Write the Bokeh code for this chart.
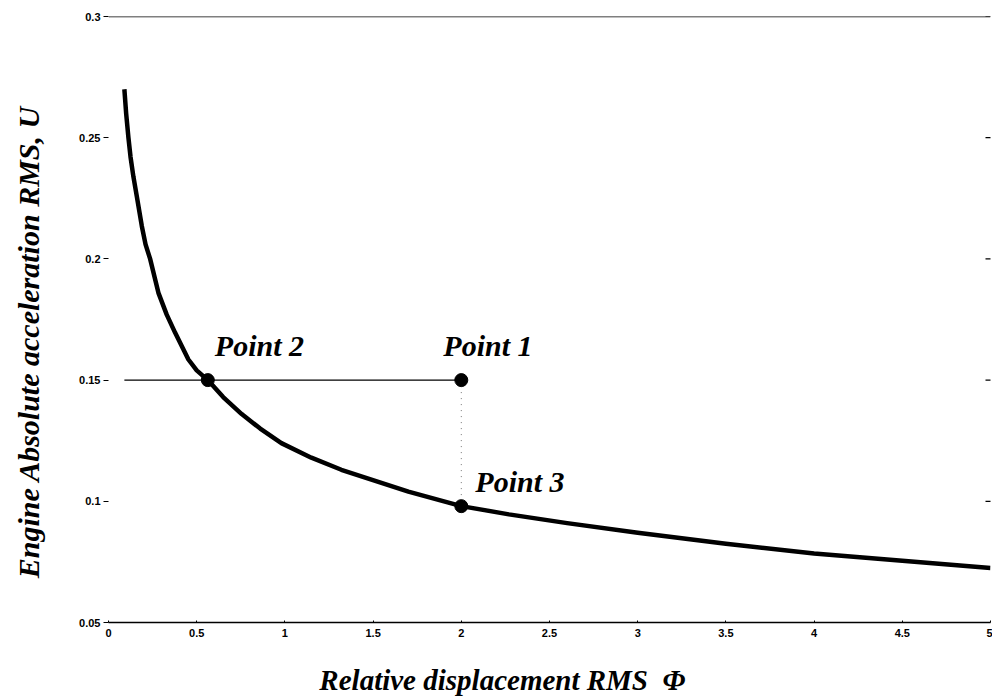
from bokeh.embed import file_html
from bokeh.models import FixedTicker, Label, LinearAxis, Span
from bokeh.plotting import figure
from bokeh.resources import INLINE

# Trade-off curve: engine absolute acceleration RMS vs relative displacement RMS
phi = [0.09, 0.10, 0.113, 0.125, 0.141, 0.16, 0.189, 0.21, 0.236, 0.283, 0.33,
       0.378, 0.453, 0.50, 0.563, 0.65, 0.755, 0.86, 0.98, 1.15, 1.32, 1.70,
       2.00, 2.27, 2.60, 3.00, 3.50, 4.00, 4.50, 5.00]
u = [0.270, 0.260, 0.250, 0.242, 0.234, 0.226, 0.2135, 0.206, 0.200, 0.186, 0.177,
     0.1695, 0.1585, 0.154, 0.150, 0.143, 0.136, 0.130, 0.124, 0.118, 0.113, 0.104,
     0.098, 0.0946, 0.091, 0.087, 0.0825, 0.0785, 0.0755, 0.0725]

# Operating points
point_names = ["Point 1", "Point 2", "Point 3"]
point_phi = [2.0, 0.563, 2.0]
point_u = [0.15, 0.15, 0.098]

x_ticks = [0, 0.5, 1, 1.5, 2, 2.5, 3, 3.5, 4, 4.5, 5]
x_tick_labels = ["0", "0.5", "1", "1.5", "2", "2.5", "3", "3.5", "4", "4.5", "5"]
y_ticks = [0.05, 0.1, 0.15, 0.2, 0.25, 0.3]
y_tick_labels = ["0.05", "0.1", "0.15", "0.2", "0.25", "0.3"]

NBSP = "\u00a0"
# trailing no-break spaces move each title off the frame centre
x_title = "Relative displacement RMS " + NBSP + "\u03a6" + NBSP * 13
y_title = "Engine Absolute acceleration RMS, U" + NBSP * 6

SERIF = "Liberation Serif"

p = figure(width=992, height=700, x_range=(0, 5), y_range=(0.05, 0.3),
           output_backend="svg", toolbar_location=None,
           x_axis_location=None, y_axis_location=None,
           min_border_left=108, min_border_right=2,
           min_border_top=16, min_border_bottom=78)
p.grid.visible = False
p.outline_line_color = None
p.background_fill_color = "white"
p.border_fill_color = "white"

tick_font = dict(major_label_text_font="Liberation Sans",
                 major_label_text_font_style="bold",
                 major_label_text_font_size="11px",
                 major_label_text_color="black")
title_font = dict(axis_label_text_font=SERIF,
                  axis_label_text_font_style="bold italic",
                  axis_label_text_color="black")

xaxis = LinearAxis(ticker=FixedTicker(ticks=x_ticks),
                   major_label_overrides={t: s for t, s in zip(x_ticks, x_tick_labels)},
                   major_tick_in=2, major_tick_out=0, minor_tick_line_color=None,
                   axis_line_width=1.5, major_label_standoff=6,
                   axis_label=x_title, axis_label_standoff=24,
                   axis_label_text_font_size="29px", **title_font, **tick_font)
p.add_layout(xaxis, "below")

yaxis = LinearAxis(ticker=FixedTicker(ticks=y_ticks),
                   major_label_overrides={t: s for t, s in zip(y_ticks, y_tick_labels)},
                   major_tick_in=0, major_tick_out=5, minor_tick_line_color=None,
                   axis_line_color=None, major_label_standoff=3,
                   axis_label=y_title, axis_label_standoff=31,
                   axis_label_text_font_size="30px", **title_font, **tick_font)
p.add_layout(yaxis, "left")

# top border of the plotting box
p.add_layout(Span(location=y_ticks[-1], dimension="width", line_color="black", line_width=1.5))

# short inward ticks on the right edge
p.scatter([x_ticks[-1]] * len(y_ticks), y_ticks, marker="dash", size=10,
          line_color="black", line_width=1.2)

# constant-acceleration line through Point 2 and Point 1
p.line([phi[0], point_phi[0]], [point_u[0], point_u[0]], line_color="black", line_width=1.2)
# dotted drop from Point 1 to Point 3
p.line([point_phi[0], point_phi[2]], [point_u[0], point_u[2]],
       line_color="#777777", line_width=1, line_dash="1 5")

p.line(phi, u, line_color="black", line_width=4.5, line_join="round")
p.scatter(point_phi, point_u, size=13, color="black")

label_offsets = [(-18, 35), (7, 35), (14, 25)]
for name, px, py, (dx, dy) in zip(point_names, point_phi, point_u, label_offsets):
    p.add_layout(Label(x=px, y=py, x_offset=dx, y_offset=dy, text=name,
                       text_font=SERIF, text_font_style="bold italic",
                       text_font_size="30px", text_align="left",
                       text_baseline="middle", text_color="black"))

open("out.html", "w").write(file_html(p, INLINE))
